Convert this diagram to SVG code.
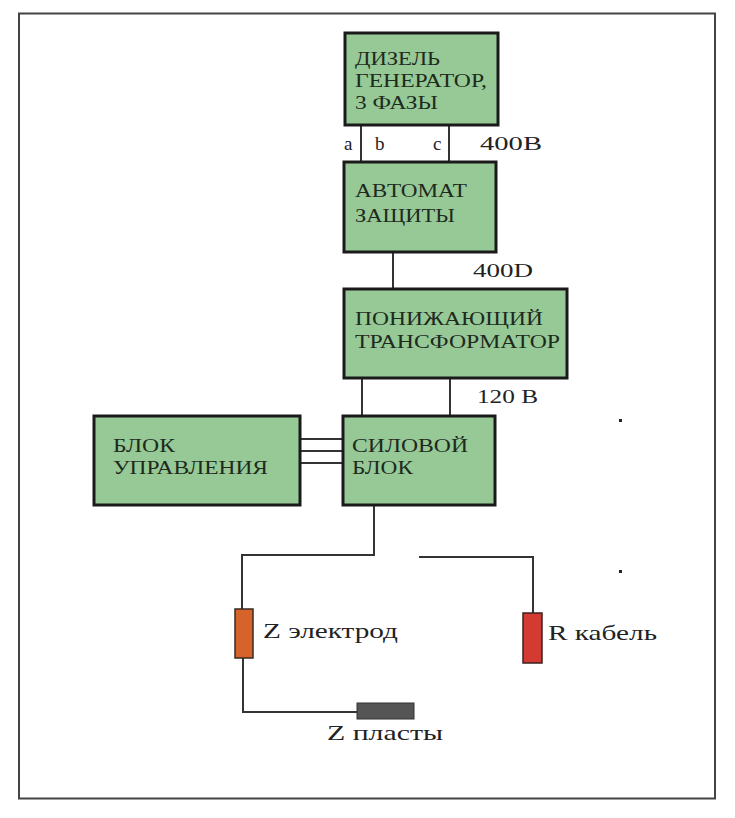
<svg xmlns="http://www.w3.org/2000/svg" width="735" height="818" viewBox="0 0 735 818">
<style>
.box{fill:#96c996;stroke:#1a1a1a;stroke-width:3}
.bt{font-family:"Liberation Serif",serif;font-size:19px;fill:#1e2a1e}
.lb{font-family:"Liberation Serif",serif;font-size:19px;fill:#222}
.wl{font-family:"Liberation Serif",serif;font-size:22px;fill:#222}
.ln{stroke:#333;stroke-width:2;fill:none}
</style>
<rect x="0" y="0" width="735" height="818" fill="#fff"/>
<rect id="frame" x="19" y="13.5" width="696" height="785" fill="none" stroke="#444" stroke-width="2"/>
<g id="connectors">
<line class="ln" x1="361" y1="125" x2="361" y2="162"/>
<line class="ln" x1="449" y1="125" x2="449" y2="162"/>
<line class="ln" x1="393" y1="252" x2="393" y2="289"/>
<line class="ln" x1="362" y1="378" x2="362" y2="416"/>
<line class="ln" x1="450" y1="378" x2="450" y2="416"/>
<line class="ln" x1="300" y1="439" x2="343" y2="439"/>
<line class="ln" x1="300" y1="451" x2="343" y2="451"/>
<line class="ln" x1="300" y1="463" x2="343" y2="463"/>
<polyline class="ln" points="374,505 374,555 242,555 242,609"/>
<polyline class="ln" points="243,658 243,712 357,712"/>
<polyline class="ln" points="419,557 533,557 533,613"/>
</g>
<g id="diesel">
<rect class="box" x="345" y="33" width="153" height="92"/>
<text class="bt" x="355" y="65" textLength="85" lengthAdjust="spacingAndGlyphs">ДИЗЕЛЬ</text>
<text class="bt" x="355" y="87" textLength="132" lengthAdjust="spacingAndGlyphs">ГЕНЕРАТОР,</text>
<text class="bt" x="355" y="109" textLength="83" lengthAdjust="spacingAndGlyphs">3 ФАЗЫ</text>
</g>
<g id="phase-labels">
<text class="lb" x="344" y="150">a</text>
<text class="lb" x="375" y="150">b</text>
<text class="lb" x="433" y="150">c</text>
<text class="lb" x="480" y="150" textLength="62" lengthAdjust="spacingAndGlyphs">400B</text>
</g>
<g id="automat">
<rect class="box" x="344" y="162" width="152" height="90"/>
<text class="bt" x="355" y="197" textLength="112" lengthAdjust="spacingAndGlyphs">АВТОМАТ</text>
<text class="bt" x="355" y="222" textLength="100" lengthAdjust="spacingAndGlyphs">ЗАЩИТЫ</text>
</g>
<text class="lb" x="473" y="277" textLength="60" lengthAdjust="spacingAndGlyphs">400D</text>
<g id="transformer">
<rect class="box" x="344" y="289" width="223" height="89"/>
<text class="bt" x="355" y="325" textLength="188" lengthAdjust="spacingAndGlyphs">ПОНИЖАЮЩИЙ</text>
<text class="bt" x="355" y="348" textLength="205" lengthAdjust="spacingAndGlyphs">ТРАНСФОРМАТОР</text>
</g>
<text class="lb" x="477" y="403" textLength="61" lengthAdjust="spacingAndGlyphs">120 B</text>
<g id="control">
<rect class="box" x="94" y="416" width="206" height="89"/>
<text class="bt" x="113" y="452" textLength="62" lengthAdjust="spacingAndGlyphs">БЛОК</text>
<text class="bt" x="113" y="474" textLength="155" lengthAdjust="spacingAndGlyphs">УПРАВЛЕНИЯ</text>
</g>
<g id="power">
<rect class="box" x="343" y="416" width="152" height="89"/>
<text class="bt" x="352" y="452" textLength="116" lengthAdjust="spacingAndGlyphs">СИЛОВОЙ</text>
<text class="bt" x="352" y="474" textLength="61" lengthAdjust="spacingAndGlyphs">БЛОК</text>
</g>
<g id="z-electrode">
<rect x="235" y="609" width="18" height="49" fill="#d6642a" stroke="#3a2a20" stroke-width="1.5"/>
<text class="wl" x="263" y="638" textLength="135" lengthAdjust="spacingAndGlyphs">Z электрод</text>
</g>
<g id="z-plast">
<rect x="357" y="703" width="57" height="16" fill="#555" stroke="#333" stroke-width="1"/>
<text class="wl" x="327" y="740" textLength="116" lengthAdjust="spacingAndGlyphs">Z пласты</text>
</g>
<g id="r-cable">
<rect x="523" y="613" width="19" height="50" fill="#d33a32" stroke="#3a2020" stroke-width="1.5"/>
<text class="wl" x="548" y="640" textLength="109" lengthAdjust="spacingAndGlyphs">R кабель</text>
</g>
<rect x="619" y="419" width="3" height="3" fill="#223"/>
<rect x="619" y="570" width="3" height="3" fill="#223"/>
</svg>
